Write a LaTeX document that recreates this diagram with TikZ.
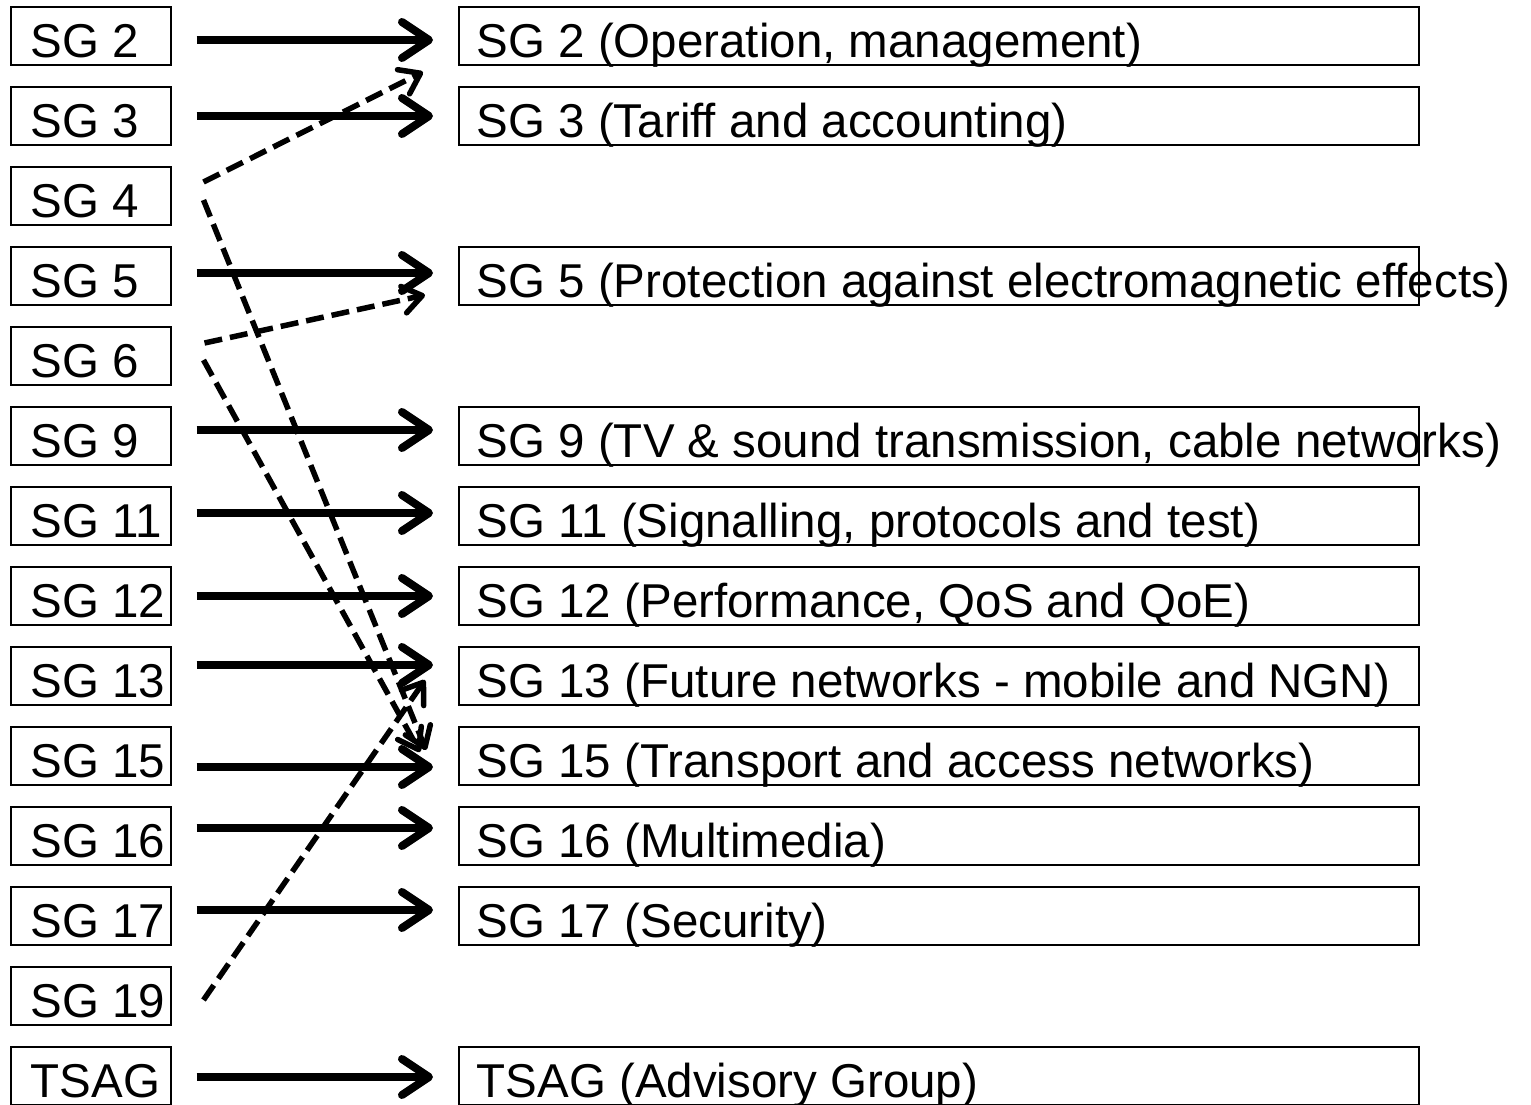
\documentclass[tikz,border=0pt]{standalone}
\usepackage{fontspec}
\setmainfont{Liberation Sans}
\usetikzlibrary{arrows.meta}
% fixed-width, left-aligned label box (text may overrun on the right)
\newcommand\boxtext[2]{\makebox[#1][l]{#2}}

\begin{document}
\begin{tikzpicture}[x=1pt,y=-1pt,
  group/.style={draw=black, line width=1.5pt, rectangle, anchor=west,
    inner xsep=20pt, inner ysep=0pt, text height=50pt, text depth=8pt,
    font=\fontsize{47.5}{56}\selectfont},
  short/.style={group},
  long/.style={group, inner xsep=18pt},
  link/.style={line width=8pt, -{Straight Barb[length=27pt,width=36pt,round]}},
  cross/.style={line width=5.5pt, dash pattern=on 18pt off 8pt,
    -{Straight Barb[length=19pt,width=27pt,round]}}]

\fill[white] (0,0) rectangle (1531,1104);
\useasboundingbox (0,0) rectangle (1531,1104);

% old study groups (left column)
\foreach \k/\n/\t in {0/2/SG 2, 1/3/SG 3, 2/4/SG 4, 3/5/SG 5, 4/6/SG 6,
    5/9/SG 9, 6/11/SG 11, 7/12/SG 12, 8/13/SG 13, 9/15/SG 15, 10/16/SG 16,
    11/17/SG 17, 12/19/SG 19, 13/TSAG/TSAG}
  \node[short] (l\n) at (10,36+80*\k) {\boxtext{120pt}{\t}};

% new study groups (right column)
\foreach \k/\n/\t in {
    0/2/{SG 2 (Operation, management)},
    1/3/{SG 3 (Tariff and accounting)},
    3/5/{SG 5 (Protection against electromagnetic effects)},
    5/9/{SG 9 (TV \& sound transmission, cable networks)},
    6/11/{SG 11 (Signalling, protocols and test)},
    7/12/{SG 12 (Performance, QoS and QoE)},
    8/13/{SG 13 (Future networks - mobile and NGN)},
    9/15/{SG 15 (Transport and access networks)},
    10/16/{SG 16 (Multimedia)},
    11/17/{SG 17 (Security)},
    13/TSAG/{TSAG (Advisory Group)}}
  \node[long] (r\n) at (458,36+80*\k) {\boxtext{924pt}{\t}};

% work moved to another group
\draw[cross] ([xshift=32pt,yshift=14pt]l4.east) -- ([xshift=-35pt,yshift=-36pt]r2.west);
\draw[cross] ([xshift=32pt,yshift=-4pt]l4.east) -- ([xshift=-32pt,yshift=6pt]r15.west);
\draw[cross] ([xshift=33pt,yshift=13pt]l6.east) -- ([xshift=-33pt,yshift=-19pt]r5.west);
\draw[cross] ([xshift=32pt,yshift=-4pt]l6.east) -- ([xshift=-38pt,yshift=4pt]r15.west);
\draw[cross] ([xshift=32pt,yshift=-4pt]l19.east) -- ([xshift=-33pt,yshift=-4pt]r13.west);

% groups that continue
\foreach \n/\dy in {2/-4, 3/0, 5/3, 9/6, 11/3, 12/0, 13/11, 15/-11, 16/8, 17/6, TSAG/-1}
  \draw[link] ([xshift=25pt,yshift=\dy pt]l\n.east) -- ([xshift=-25pt,yshift=\dy pt]r\n.west);
\end{tikzpicture}
\end{document}
